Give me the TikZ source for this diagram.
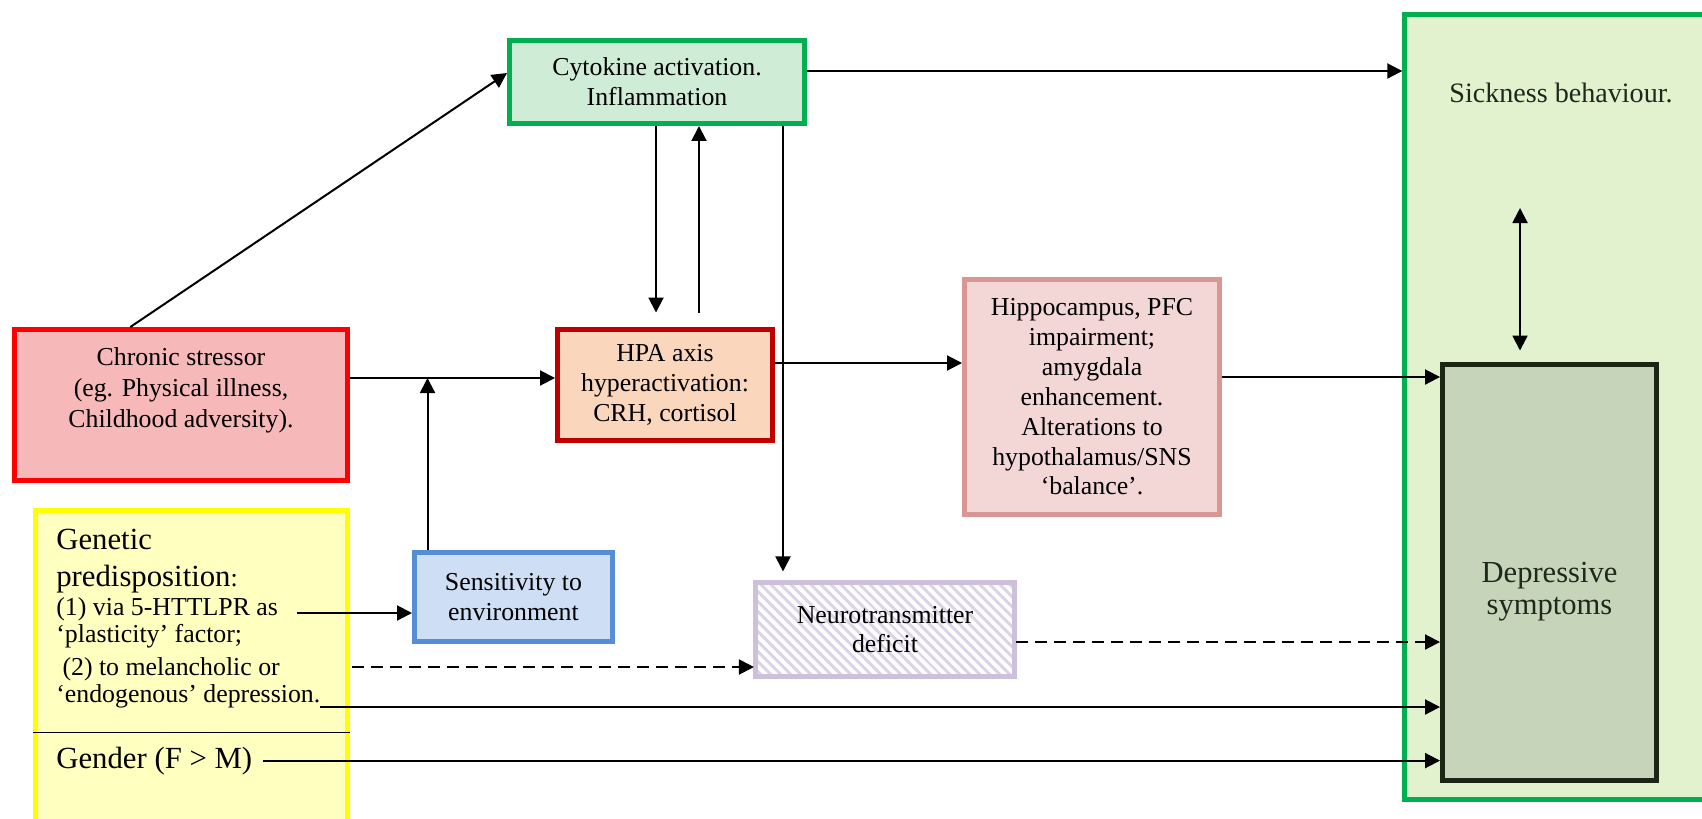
\documentclass[tikz,border=0pt]{standalone}
\usepackage{fontspec}
\setmainfont{Liberation Serif}
\usepackage{xcolor}
\usetikzlibrary{positioning,arrows.meta,calc,patterns.meta}

\definecolor{cytoline}{RGB}{0,176,80}
\definecolor{cytofill}{RGB}{206,236,214}
\definecolor{stressline}{RGB}{255,0,0}
\definecolor{stressfill}{RGB}{246,184,184}
\definecolor{hpaline}{RGB}{192,0,0}
\definecolor{hpafill}{RGB}{250,214,188}
\definecolor{hippoline}{RGB}{217,150,148}
\definecolor{hippofill}{RGB}{243,215,215}
\definecolor{genline}{RGB}{255,255,0}
\definecolor{genfill}{RGB}{255,255,192}
\definecolor{sensline}{RGB}{85,142,213}
\definecolor{sensfill}{RGB}{206,222,244}
\definecolor{neuroline}{RGB}{204,192,218}
\definecolor{neurohatch}{RGB}{220,212,232}
\definecolor{sickline}{RGB}{0,176,80}
\definecolor{sickfill}{RGB}{226,241,206}
\definecolor{depline}{RGB}{28,38,20}
\definecolor{depfill}{RGB}{198,212,186}
\definecolor{darktext}{RGB}{30,40,28}

\newcommand{\boxfont}{\fontsize{14.7}{17}\selectfont}
\newcommand{\stressfont}{\fontsize{14.7}{17.6}\selectfont}
\newcommand{\genfont}{\fontsize{17.5}{21}\selectfont}
\newcommand{\genbodyfont}{\fontsize{14.7}{15.6}\selectfont}
\newcommand{\depfont}{\fontsize{17.4}{18.2}\selectfont}
\newcommand{\sickfont}{\fontsize{16}{19}\selectfont}

\begin{document}
\begin{tikzpicture}[x=0.02cm, y=-0.02cm,
  every node/.style={font=\boxfont},
  box/.style={draw, line width=0.1cm, align=center, inner sep=0pt},
  arr/.style={-{Triangle[length=0.3cm,width=0.3cm]}, line width=0.04cm},
  dasharr/.style={arr, dash pattern=on 0.24cm off 0.14cm},
  dblarr/.style={{Triangle[length=0.3cm,width=0.3cm]}-{Triangle[length=0.3cm,width=0.3cm]}, line width=0.04cm},
]
  \useasboundingbox (0,0) rectangle (1702,818);
  \clip (0,0) rectangle (1702,818);

  % Outcome frame: sickness behaviour around depressive symptoms
  \node[box, draw=sickline, fill=sickfill, minimum width=6.25cm, minimum height=15.7cm] (sick) at (1561,407) {};
  \node[anchor=base, font=\sickfont, text=darktext] (sicktext) at (1561,102) {Sickness behaviour.};
  \node[box, draw=depline, fill=depfill, minimum width=4.28cm, minimum height=8.32cm] (dep) at (1549.5,572.5) {};
  \node[align=center, font=\depfont, text=darktext] (deptext) at (1549.5,592) {Depressive\\symptoms};

  % Left column: stressor and predisposition
  \node[box, draw=stressline, fill=stressfill, minimum width=6.66cm, minimum height=3.02cm] (stress) at (181,405) {};
  \node[align=center, font=\stressfont] (stresstext) at (181,390) {Chronic stressor\\(eg. Physical illness,\\Childhood adversity).};
  \node[box, draw=genline, fill=genfill, minimum width=6.24cm, minimum height=6.54cm] (gen) at (191.5,674) {};
  \node[anchor=north west, inner sep=0pt, align=left, font=\genfont] (genhead) at (56,529) {Genetic\\predisposition{\boxfont:}};
  \node[anchor=north west, inner sep=0pt, align=left, font=\genbodyfont] (genbody) at (56,597)
    {(1) via 5-HTTLPR as\\‘plasticity’ factor;\\[3pt]\hspace*{3.5pt}(2) to melancholic or\\‘endogenous’ depression.};
  \node[anchor=base west, inner sep=0pt, font=\genfont] (gender) at (56,768) {Gender (F > M)};
  \coordinate (divy) at (0,732);
  \draw[line width=0.02cm] (gen.west |- divy) -- (gen.east |- divy);

  % Middle: mechanisms
  \node[box, draw=cytoline, fill=cytofill, minimum width=5.9cm, minimum height=1.66cm] (cyto) at (657,82) {Cytokine activation.\\Inflammation};
  \node[box, draw=hpaline, fill=hpafill, minimum width=4.3cm, minimum height=2.22cm] (hpa) at (665,385) {HPA axis\\hyperactivation:\\CRH, cortisol};
  \node[box, draw=sensline, fill=sensfill, minimum width=3.96cm, minimum height=1.78cm] (sens) at (513.5,597) {Sensitivity to\\environment};
  \node[box, draw=neuroline, pattern={Lines[angle=-45,distance=4pt,line width=1.8pt]}, pattern color=neurohatch,
        minimum width=5.18cm, minimum height=1.88cm] (neuro) at (885,629.5) {Neurotransmitter\\deficit};
  \node[box, draw=hippoline, fill=hippofill, minimum width=5.1cm, minimum height=4.7cm] (hippo) at (1092,397)
    {Hippocampus, PFC\\impairment;\\amygdala\\enhancement.\\Alterations to\\hypothalamus/SNS\\‘balance’.};

  % Arrows
  \coordinate (down) at (656,0);
  \coordinate (up) at (699,0);
  \coordinate (nt) at (783,0);
  \draw[arr] ($(stress.north west)!0.35!(stress.north east)$) -- ($(cyto.west)+(0,-9)$);
  \draw[arr] ($(cyto.east)+(0,-11)$) coordinate (c1) -- (c1 -| sick.west);
  \draw[arr, shorten >=0.29cm] (cyto.south -| down) -- (hpa.north -| down);
  \draw[arr, shorten <=0.29cm] (hpa.north -| up) -- (cyto.south -| up);
  \draw[arr, shorten >=0.19cm] (cyto.south -| nt) -- (neuro.north -| nt);
  \draw[arr] ($(stress.east)+(0,-27)$) coordinate (s1) -- (s1 -| hpa.west);
  \draw[arr] ($(sens.north west)+(15.5,0)$) coordinate (s2) -- (s2 |- s1);
  \draw[arr] ($(hpa.east)+(0,-22)$) coordinate (h1) -- (h1 -| hippo.west);
  \draw[arr] ($(hippo.east)+(0,-20)$) coordinate (h2) -- (h2 -| dep.west);

  % From the predisposition box
  \coordinate (g1) at (297,613);
  \coordinate (g2) at (352,667);
  \coordinate (g3) at (320,707);
  \draw[arr] (g1) -- (g1 -| sens.west);
  \draw[dasharr] (g2) -- (g2 -| neuro.west);
  \draw[arr] (g3) -- (g3 -| dep.west);
  \draw[arr, shorten <=0.2cm] (gender.east) -- (gender.east -| dep.west);
  \draw[dasharr] ($(neuro.east)+(0,12.5)$) coordinate (n1) -- (n1 -| dep.west);

  % Sickness behaviour <-> depressive symptoms
  \coordinate (sb) at (1520,208);
  \draw[dblarr, shorten >=0.23cm] (sb) -- (sb |- dep.north);
\end{tikzpicture}
\end{document}
